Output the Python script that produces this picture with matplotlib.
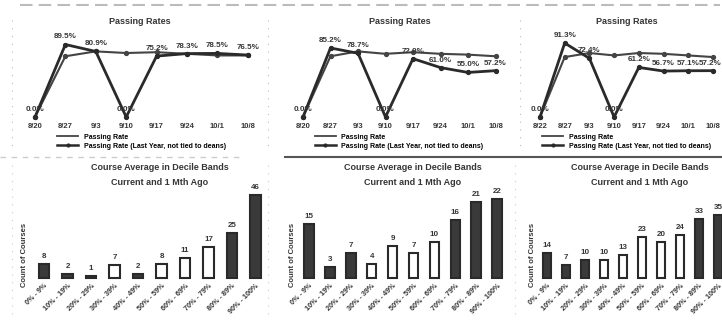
import matplotlib
matplotlib.use("Agg")
import matplotlib.pyplot as plt
from matplotlib.lines import Line2D

# 数据
weeks_1 = ["8/20", "8/27", "9/3", "9/10", "9/17", "9/24", "10/1", "10/8"]
weeks_2 = ["8/20", "8/27", "9/3", "9/10", "9/17", "9/24", "10/1", "10/8"]
weeks_3 = ["8/22", "8/27", "9/3", "9/10", "9/17", "9/24", "10/1", "10/8"]

rate_1 = [0.0, 89.5, 80.9, 0.0, 75.2, 78.3, 78.5, 76.5]
last_1 = [0.0, 75.0, 81.0, 79.0, 80.0, 78.0, 76.0, 76.0]
rate_2 = [0.0, 85.2, 78.7, 0.0, 72.0, 61.0, 55.0, 57.2]
last_2 = [0.0, 75.0, 81.0, 78.0, 80.0, 78.0, 77.0, 75.0]
rate_3 = [0.0, 91.3, 72.4, 0.0, 61.2, 56.7, 57.1, 57.2]
last_3 = [0.0, 74.0, 79.0, 76.0, 79.0, 78.0, 76.0, 74.0]

bands = ["0% - 9%", "10% - 19%", "20% - 29%", "30% - 39%", "40% - 49%",
         "50% - 59%", "60% - 69%", "70% - 79%", "80% - 89%", "90% - 100%"]
counts_1 = [8, 2, 1, 7, 2, 8, 11, 17, 25, 46]
counts_2 = [15, 3, 7, 4, 9, 7, 10, 16, 21, 22]
counts_3 = [14, 7, 10, 10, 13, 23, 20, 24, 33, 35]

W, H = 722, 321
fig = plt.figure(figsize=(W / 100, H / 100), dpi=100)
fig.patch.set_facecolor("white")
plt.rcParams["font.family"] = ["Liberation Sans", "DejaVu Sans"]

DARK = "#2a2a2a"
TXT = "#363636"


def px_axes(x0, y_top, x1, y_bot):
    # 像素坐标 -> figure 坐标
    return fig.add_axes([x0 / W, 1 - y_bot / H, (x1 - x0) / W, (y_bot - y_top) / H])


def line_panel(first_x, step, weeks, rate, last, title, title_x, last_ha="center"):
    left = first_x - 0.3 * step
    right = first_x + 7.3 * step
    ax = px_axes(left, 36, right, 117)
    ax.set_xlim(-0.3, 7.3)
    ax.set_ylim(0, 100)
    xs = range(len(weeks))
    ax.plot(xs, last, color="#444444", lw=1.5, marker="o", ms=2.8, clip_on=False)
    ax.plot(xs, rate, color=DARK, lw=2.0, marker="o", ms=2.8, clip_on=False)
    for x, v in zip(xs, rate):
        ha = last_ha if x == len(weeks) - 1 else "center"
        ax.text(x + (0.35 if ha == "right" else 0), v + 5, f"{v:.1f}%", ha=ha,
                va="bottom", fontsize=5.8, fontweight="bold", color=TXT, clip_on=False)
    for s in ax.spines.values():
        s.set_visible(False)
    ax.set_yticks([])
    ax.set_xticks(list(xs))
    ax.set_xticklabels(weeks, fontsize=5.5, fontweight="bold", color=TXT)
    ax.tick_params(axis="x", length=0, pad=4)
    ax.patch.set_alpha(0)
    fig.text(title_x / W, 1 - 22 / H, title, ha="center", va="center",
             fontsize=6.5, fontweight="bold", color=TXT)
    handles = [Line2D([], [], color="#444444", lw=1.3),
               Line2D([], [], color=DARK, lw=1.8, marker="o", ms=2)]
    ax.legend(handles, ["Passing Rate", "Passing Rate (Last Year, not tied to deans)"],
              loc="upper center", bbox_to_anchor=(0.5, -0.17), frameon=False,
              handlelength=3, labelspacing=0.3, borderaxespad=0,
              prop={"weight": "bold", "size": 5})
    return ax


def bar_panel(first_x, step, counts, px_per, fills, title_x, ylab_x):
    left = first_x - 0.6 * step
    right = first_x + 9.6 * step
    ymax = 90 / px_per
    ax = px_axes(left, 278 - 90, right, 278)
    ax.set_xlim(-0.6, 9.6)
    ax.set_ylim(0, ymax)
    xs = range(len(counts))
    ax.bar(xs, counts, width=0.45, color=fills, edgecolor=DARK, linewidth=1.5,
           clip_on=False)
    for x, v in zip(xs, counts):
        ax.text(x, v + 4 / px_per, str(v), ha="center", va="bottom", fontsize=5.8,
                fontweight="bold", color=TXT, clip_on=False)
    for s in ax.spines.values():
        s.set_visible(False)
    ax.set_yticks([])
    ax.set_xticks(list(xs))
    ax.set_xticklabels(bands, rotation=45, ha="right", rotation_mode="anchor",
                       fontsize=5.2, fontweight="bold", color=TXT)
    ax.tick_params(axis="x", length=0, pad=3)
    ax.patch.set_alpha(0)
    fig.text(title_x / W, 1 - 168 / H, "Course Average in Decile Bands",
             ha="center", va="center", fontsize=6.5, fontweight="bold", color=TXT)
    fig.text(title_x / W, 1 - 183 / H, "Current and 1 Mth Ago",
             ha="center", va="center", fontsize=6.5, fontweight="bold", color=TXT)
    fig.text(ylab_x / W, 1 - 255 / H, "Count of Courses", rotation=90,
             ha="center", va="center", fontsize=5.5, fontweight="bold", color=TXT)
    return ax


# 上排：Passing Rates
line_panel(35, 30.4, weeks_1, rate_1, last_1, "Passing Rates", 140)
line_panel(303, 27.5, weeks_2, rate_2, last_2, "Passing Rates", 400)
line_panel(540, 24.7, weeks_3, rate_3, last_3, "Passing Rates", 627, last_ha="right")

# 下排：decile 柱状图
D, L = "#3a3a3a", "white"
fills_1 = [D, D, D, L, D, L, L, L, D, D]
fills_2 = [D, D, D, L, L, L, L, D, D, D]
fills_3 = [D, D, D, L, L, L, L, L, D, D]
bar_panel(44, 23.5, counts_1, 1.8, fills_1, 160, 25)
bar_panel(309, 20.9, counts_2, 3.6, fills_2, 413, 293)
bar_panel(547, 19.0, counts_3, 1.8, fills_3, 640, 532)

# 截图边框的碎片线条
over = fig.add_axes([0, 0, 1, 1])
over.set_xlim(0, W)
over.set_ylim(H, 0)
over.axis("off")
over.patch.set_alpha(0)
over.plot([20, 720], [5, 5], color="#bbbbbb", lw=1.5, ls=(0, (6, 3)))
over.plot([285, 722], [157, 157], color="#555555", lw=1.5)
over.plot([0, 240], [157, 157], color="#cccccc", lw=1, ls=(0, (4, 4)))
for x in (12, 268, 520):
    over.plot([x, x], [20, 148], color="#bbbbbb", lw=0.8, ls=(0, (1, 6)))
for x in (12, 268, 515):
    over.plot([x, x], [165, 315], color="#cccccc", lw=0.8, ls=(0, (1, 6)))

fig.savefig("out.png", dpi=100, facecolor="white")
